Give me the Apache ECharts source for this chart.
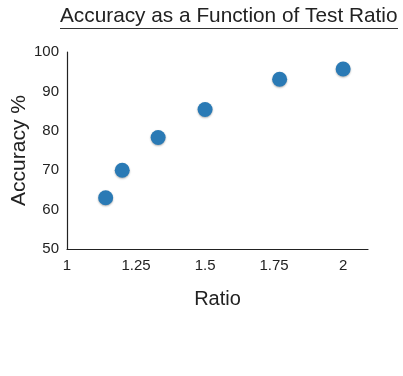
<!DOCTYPE html>
<html>
<head>
<meta charset="utf-8">
<script src="https://cdn.jsdelivr.net/npm/echarts@6/dist/echarts.min.js"></script>
<style>
  html, body { margin: 0; padding: 0; background: #fff; }
  #main { width: 403px; height: 376px; }
</style>
</head>
<body>
<div id="main"></div>
<script>
var myChart = echarts.init(document.getElementById('main'));

// test ratio vs accuracy
var ratios = [1.14, 1.2, 1.33, 1.5, 1.77, 2.0];
var accuracy = [63, 70, 78.3, 85.4, 93.1, 95.7];

var points = ratios.map(function (r, i) {
    return [r, accuracy[i]];
});

var font = 'Liberation Sans, Arial, sans-serif';

var option = {
    backgroundColor: '#fff',
    title: {
        text: 'Accuracy as a Function of Test Ratio',
        left: 60,
        top: 6,
        padding: 0,
        textStyle: {
            fontFamily: font,
            fontSize: 20.8,
            fontWeight: 'normal',
            color: '#222'
        }
    },
    // underline under the title
    graphic: [{
        type: 'line',
        shape: { x1: 60, y1: 28.5, x2: 398, y2: 28.5 },
        style: { stroke: '#333', lineWidth: 1 }
    }],
    grid: {
        left: 67,
        top: 52,
        right: 35,
        bottom: 127,
        containLabel: false,
        outerBoundsMode: 'none'
    },
    xAxis: {
        type: 'value',
        min: 1,
        max: 2.09,
        interval: 0.25,
        name: 'Ratio',
        nameLocation: 'middle',
        nameGap: 40,
        nameMoveOverlap: false,
        nameTextStyle: { fontFamily: font, fontSize: 20, color: '#222' },
        axisLine: { show: true, lineStyle: { color: '#222', width: 1.2 } },
        axisTick: { show: false },
        splitLine: { show: false },
        axisLabel: {
            fontFamily: font,
            fontSize: 15,
            color: '#222',
            margin: 9,
            showMaxLabel: false
        }
    },
    yAxis: {
        type: 'value',
        min: 50,
        max: 100,
        interval: 10,
        name: 'Accuracy %',
        nameLocation: 'middle',
        nameGap: 37,
        nameMoveOverlap: false,
        nameTextStyle: { fontFamily: font, fontSize: 21, color: '#222' },
        axisLine: { show: true, lineStyle: { color: '#222', width: 1.2 } },
        axisTick: { show: false },
        splitLine: { show: false },
        axisLabel: {
            fontFamily: font,
            fontSize: 15,
            color: '#222',
            margin: 8
        }
    },
    series: [{
        type: 'scatter',
        symbolSize: 15,
        itemStyle: {
            color: '#2a7ab5',
            opacity: 1,
            shadowColor: 'rgba(0,0,0,0.3)',
            shadowBlur: 2,
            shadowOffsetY: 1
        },
        data: points
    }]
};

myChart.setOption(option);
window.onresize = myChart.resize;
</script>
</body>
</html>
